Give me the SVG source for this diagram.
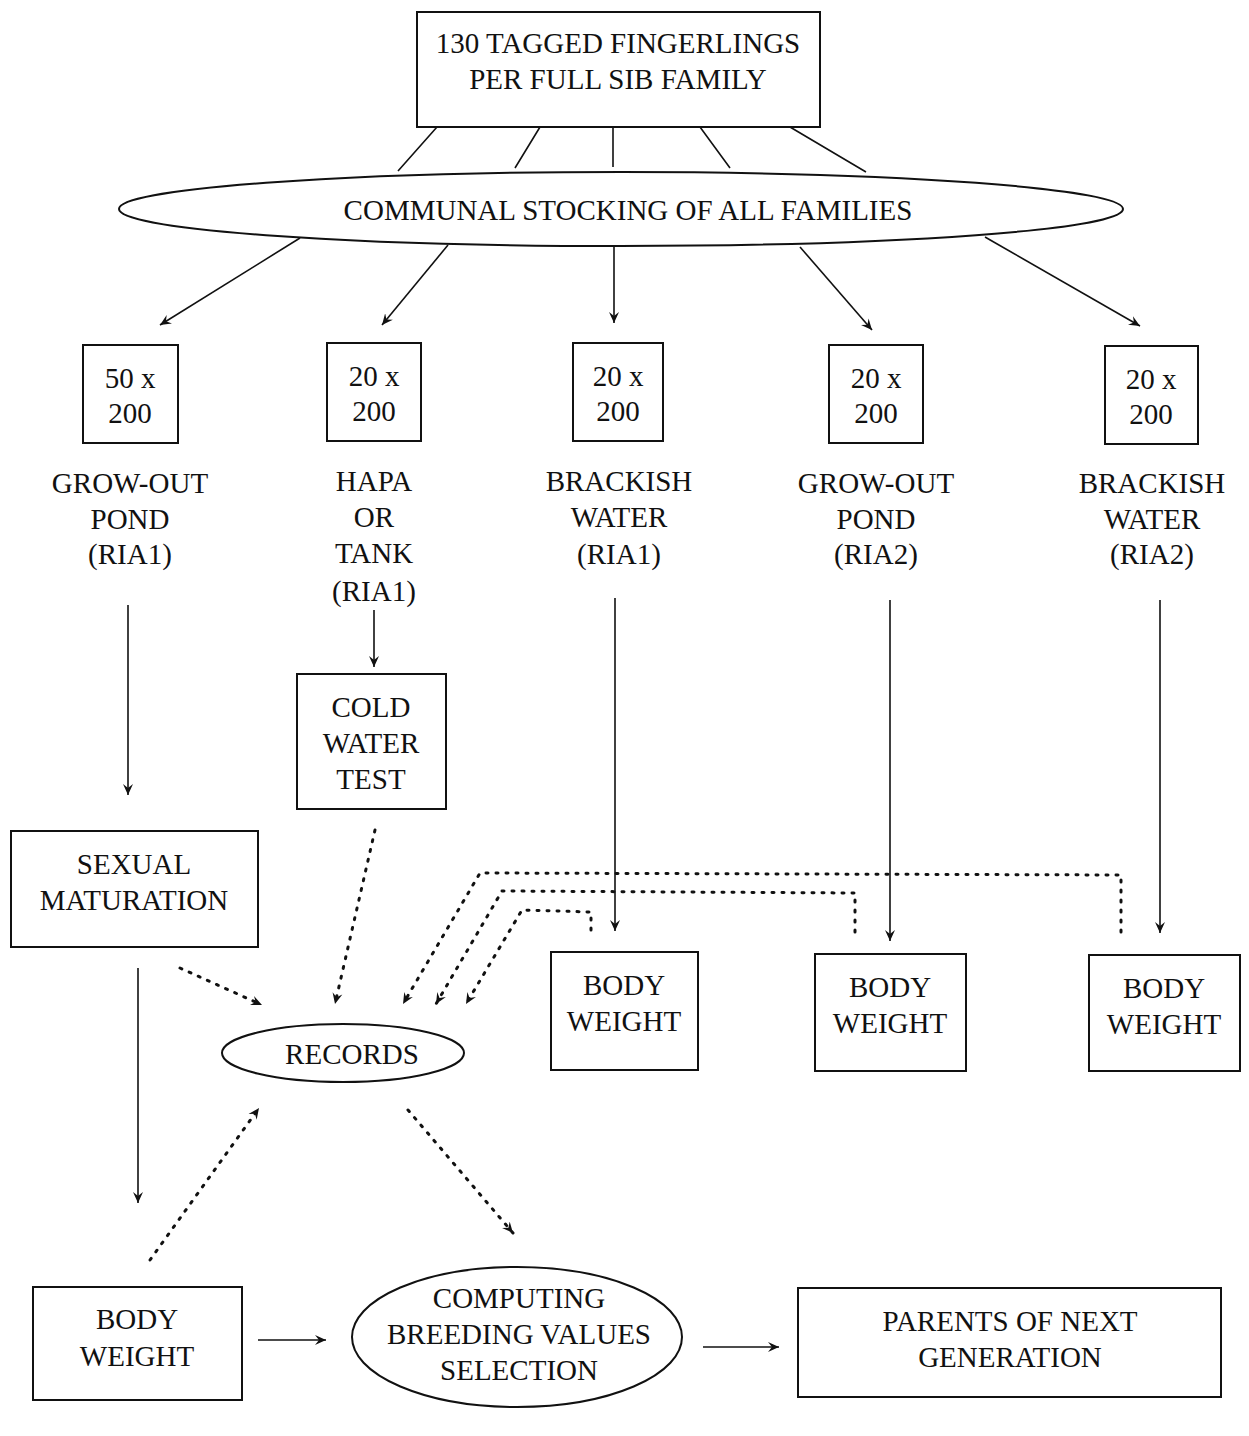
<svg xmlns="http://www.w3.org/2000/svg" width="1249" height="1436" viewBox="0 0 1249 1436">
<defs>
<style>
text{font-family:"Liberation Serif","DejaVu Serif",serif;font-size:29px;fill:#111;text-anchor:middle}
.box{fill:none;stroke:#111;stroke-width:2}
.ln{fill:none;stroke:#111;stroke-width:1.6}
.dot{fill:none;stroke:#111;stroke-width:3;stroke-dasharray:2 8;stroke-linecap:round}
</style>
<marker id="ah" viewBox="0 0 12 12" refX="11" refY="6" markerWidth="12" markerHeight="12" markerUnits="userSpaceOnUse" orient="auto">
<path d="M0,1 L11,6 L0,11 L4,6 Z" fill="#111"/>
</marker>
</defs>
<rect width="1249" height="1436" fill="#fff"/>

<g id="connectors">
<path class="ln" d="M437,127 L398,171 M540,127 L515,168 M613,127 L613,167 M700,127 L730,168 M790,127 L866,172"/>
<path class="ln" marker-end="url(#ah)" d="M300,238 L160,325"/>
<path class="ln" marker-end="url(#ah)" d="M448,245 L382,325"/>
<path class="ln" marker-end="url(#ah)" d="M614,247 L614,323"/>
<path class="ln" marker-end="url(#ah)" d="M800,247 L872,330"/>
<path class="ln" marker-end="url(#ah)" d="M985,237 L1140,326"/>
<path class="ln" marker-end="url(#ah)" d="M128,605 L128,795"/>
<path class="ln" marker-end="url(#ah)" d="M374,610 L374,667"/>
<path class="ln" marker-end="url(#ah)" d="M615,598 L615,931"/>
<path class="ln" marker-end="url(#ah)" d="M890,600 L890,941"/>
<path class="ln" marker-end="url(#ah)" d="M1160,600 L1160,933"/>
<path class="ln" marker-end="url(#ah)" d="M138,968 L138,1203"/>
<path class="ln" marker-end="url(#ah)" d="M258,1340 L326,1340"/>
<path class="ln" marker-end="url(#ah)" d="M703,1347 L779,1347"/>
<path class="dot" marker-end="url(#ah)" d="M180,968 L262,1005"/>
<path class="dot" marker-end="url(#ah)" d="M375,830 L335,1004"/>
<path class="dot" marker-end="url(#ah)" d="M1121,932 L1121,875 L480,873 L403,1004"/>
<path class="dot" marker-end="url(#ah)" d="M855,932 L855,893 L502,891 L436,1004"/>
<path class="dot" marker-end="url(#ah)" d="M591,930 L591,912 L522,910 L466,1004"/>
<path class="dot" marker-end="url(#ah)" d="M150,1260 L259,1108"/>
<path class="dot" marker-end="url(#ah)" d="M408,1110 L513,1233"/>
</g>

<g id="top"><rect class="box" x="417" y="12" width="403" height="115"/>
<text x="618" y="53">130 TAGGED FINGERLINGS</text><text x="618" y="89">PER  FULL SIB FAMILY</text></g>
<g id="communal"><ellipse class="box" cx="621" cy="209" rx="502" ry="37"/>
<text x="628" y="220">COMMUNAL STOCKING OF ALL FAMILIES</text></g>

<g id="b1"><rect class="box" x="83" y="345" width="95" height="98"/><text x="130" y="388">50 x</text><text x="130" y="423">200</text></g>
<g id="b2"><rect class="box" x="327" y="343" width="94" height="98"/><text x="374" y="386">20 x</text><text x="374" y="421">200</text></g>
<g id="b3"><rect class="box" x="573" y="343" width="90" height="98"/><text x="618" y="386">20 x</text><text x="618" y="421">200</text></g>
<g id="b4"><rect class="box" x="829" y="345" width="94" height="98"/><text x="876" y="388">20 x</text><text x="876" y="423">200</text></g>
<g id="b5"><rect class="box" x="1105" y="346" width="93" height="98"/><text x="1151" y="389">20 x</text><text x="1151" y="424">200</text></g>

<g id="l1"><text x="130" y="493">GROW-OUT</text><text x="130" y="529">POND</text><text x="130" y="564">(RIA1)</text></g>
<g id="l2"><text x="374" y="491">HAPA</text><text x="374" y="527">OR</text><text x="374" y="563">TANK</text><text x="374" y="601">(RIA1)</text></g>
<g id="l3"><text x="619" y="491">BRACKISH</text><text x="619" y="527">WATER</text><text x="619" y="564">(RIA1)</text></g>
<g id="l4"><text x="876" y="493">GROW-OUT</text><text x="876" y="529">POND</text><text x="876" y="564">(RIA2)</text></g>
<g id="l5"><text x="1152" y="493">BRACKISH</text><text x="1152" y="529">WATER</text><text x="1152" y="564">(RIA2)</text></g>

<g id="cold"><rect class="box" x="297" y="674" width="149" height="135"/><text x="371" y="717">COLD</text><text x="371" y="753">WATER</text><text x="371" y="789">TEST</text></g>
<g id="sexual"><rect class="box" x="11" y="831" width="247" height="116"/><text x="134" y="874">SEXUAL</text><text x="134" y="910">MATURATION</text></g>
<g id="bw1"><rect class="box" x="551" y="952" width="147" height="118"/><text x="624" y="995">BODY</text><text x="624" y="1031">WEIGHT</text></g>
<g id="bw2"><rect class="box" x="815" y="954" width="151" height="117"/><text x="890" y="997">BODY</text><text x="890" y="1033">WEIGHT</text></g>
<g id="bw3"><rect class="box" x="1089" y="955" width="151" height="116"/><text x="1164" y="998">BODY</text><text x="1164" y="1034">WEIGHT</text></g>
<g id="records"><ellipse class="box" cx="343" cy="1053" rx="121" ry="29"/><text x="352" y="1064">RECORDS</text></g>
<g id="bw4"><rect class="box" x="33" y="1287" width="209" height="113"/><text x="137" y="1329">BODY</text><text x="137" y="1366">WEIGHT</text></g>
<g id="computing"><ellipse class="box" cx="517" cy="1337" rx="165" ry="70"/><text x="519" y="1308">COMPUTING</text><text x="519" y="1344">BREEDING VALUES</text><text x="519" y="1380">SELECTION</text></g>
<g id="parents"><rect class="box" x="798" y="1288" width="423" height="109"/><text x="1010" y="1331">PARENTS OF NEXT</text><text x="1010" y="1367">GENERATION</text></g>
</svg>
